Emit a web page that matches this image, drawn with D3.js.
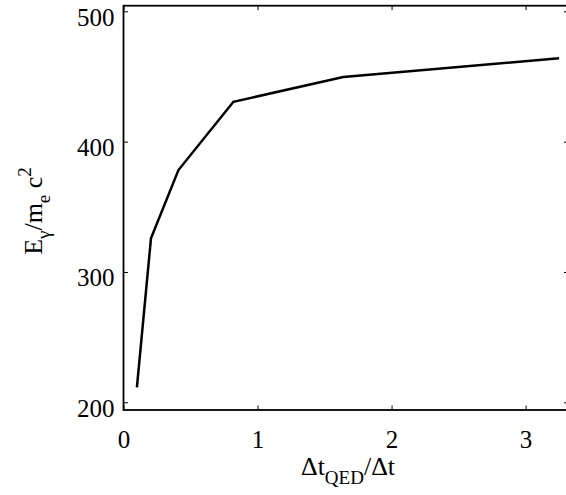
<!DOCTYPE html>
<html><head><meta charset="utf-8">
<script src="https://cdn.jsdelivr.net/npm/d3@7"></script>
<style>body{margin:0;background:#fff}svg{display:block}</style>
</head><body><svg id="c" width="566" height="495"></svg>
<script>
const ratio = [0.1, 0.205, 0.41, 0.82, 1.64, 3.25];
const energy = [211.5, 325.8, 378.2, 430.6, 449.6, 464];
const xTicks = [0, 1, 2, 3];
const yTicks = [200, 300, 400, 500];

const SERIF = "'Liberation Serif', 'Times New Roman', serif";
const svg = d3.select("#c");
const L = 123.5, R = 568.5, T = 5.7, B = 410;
const x = d3.scaleLinear().domain([0, 3.32]).range([L, R]);
const y = d3.scaleLinear().domain([194.1, 504.3]).range([B, T]);

// data line
svg.append("path")
  .datum(ratio.map((v, i) => [v, energy[i]]))
  .attr("fill", "none").attr("stroke", "#000").attr("stroke-width", 2.5)
  .attr("stroke-linejoin", "miter")
  .attr("d", d3.line().x(d => x(d[0])).y(d => y(d[1])));

// axes (box with inward ticks)
const tl = 4.5;
const fs = "25px";
const styleText = g => g.selectAll("text").style("font-family", SERIF).style("font-size", fs).style("fill", "#000");
svg.append("g").attr("transform", `translate(0,${B})`)
  .call(d3.axisBottom(x).tickValues(xTicks).tickSizeInner(-tl).tickSizeOuter(0).tickPadding(20.5).tickFormat(d3.format("d")))
  .call(styleText);
svg.append("g").attr("transform", `translate(0,${T})`)
  .call(d3.axisTop(x).tickValues(xTicks).tickSizeInner(-tl).tickSizeOuter(0).tickFormat(""));
svg.append("g").attr("transform", `translate(${L},0)`)
  .call(d3.axisLeft(y).tickValues(yTicks).tickSizeInner(-tl).tickSizeOuter(0).tickPadding(9).tickFormat(d3.format("d")))
  .call(styleText)
  .call(g => g.selectAll("text").attr("dy", "0.55em"));
svg.append("g").attr("transform", `translate(${R},0)`)
  .call(d3.axisRight(y).tickValues(yTicks).tickSizeInner(-tl).tickSizeOuter(0).tickFormat(""));
svg.selectAll(".domain").remove();
svg.selectAll(".tick line").attr("stroke", "#000").attr("stroke-width", 1);
svg.append("rect").attr("x", L).attr("y", T).attr("width", R - L).attr("height", B - T)
  .attr("fill", "none").attr("stroke", "#000").attr("stroke-width", 1.8);

// x label
const xl = svg.append("text").attr("x", 348).attr("y", 475).attr("text-anchor", "middle")
  .style("font-family", SERIF).style("font-size", "26px").style("fill", "#000");
xl.append("tspan").text("Δt");
xl.append("tspan").style("font-size", "19px").attr("dy", 9).text("QED");
xl.append("tspan").attr("dy", -9).text("/Δt");

// y label
const yl = svg.append("text").attr("transform", "translate(42,211) rotate(-90)").attr("text-anchor", "middle")
  .style("font-family", SERIF).style("font-size", "26px").style("fill", "#000");
yl.append("tspan").text("E");
yl.append("tspan").style("font-size", "19px").attr("dy", 8).text("γ");
yl.append("tspan").attr("dy", -8).text("/m");
yl.append("tspan").style("font-size", "19px").attr("dy", 8).text("e");
yl.append("tspan").attr("dy", -8).text(" c");
yl.append("tspan").style("font-size", "19px").attr("dy", -11).text("2");
</script></body></html>
